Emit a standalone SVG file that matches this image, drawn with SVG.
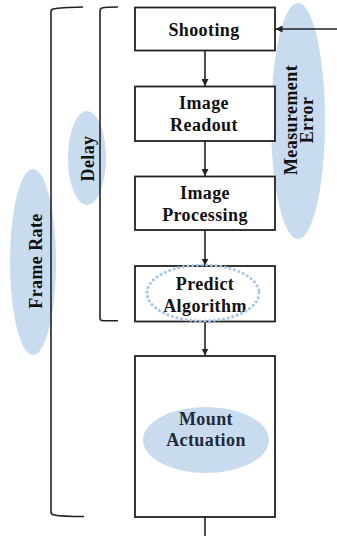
<svg xmlns="http://www.w3.org/2000/svg" width="337" height="536" viewBox="0 0 337 536">
<defs>
<style>
.bg{fill:#ffffff}
.hl{fill:#c9dcef;stroke:none}
.box{fill:#ffffff;stroke:#222222;stroke-width:1.8}
.ln{fill:none;stroke:#222222;stroke-width:1.6}
.br{fill:none;stroke:#222222;stroke-width:1.6}
.t{font-family:"Liberation Serif","Times New Roman",serif;font-weight:bold;font-size:18px;letter-spacing:0.4px;fill:#111111;text-anchor:middle}
.tm{fill:#1e2a3a}
.dot{fill:none;stroke:#a6c6e8;stroke-width:3;stroke-dasharray:0.1 4.6;stroke-linecap:round}
</style>
<marker id="ah" viewBox="0 0 10 10" refX="10" refY="5" markerWidth="7" markerHeight="7" markerUnits="userSpaceOnUse" orient="auto">
<path d="M0,0 L10,5 L0,10 z" fill="#222222"/>
</marker>
</defs>
<rect class="bg" x="0" y="0" width="337" height="536"/>

<g id="highlights">
<ellipse class="hl" cx="298" cy="121" rx="27" ry="118"/>
<ellipse class="hl" cx="87" cy="158" rx="19" ry="47"/>
<ellipse class="hl" cx="33" cy="262" rx="23" ry="93"/>
</g>

<g id="brackets">
<path class="br" d="M83,7 Q60,7.5 53,9 Q51,9.5 51,12 L51,512 Q51,514.5 54,515 Q62,516.5 84,516.5"/>
<path class="br" d="M118,7 Q106,7 102,8 Q100,8.5 100,11 L100,318 Q100,320.5 103,320.8 L118,320.8"/>
</g>

<g id="connectors">
<line class="ln" x1="205" y1="51" x2="205" y2="86" marker-end="url(#ah)"/>
<line class="ln" x1="205" y1="141" x2="205" y2="176" marker-end="url(#ah)"/>
<line class="ln" x1="205" y1="230" x2="205" y2="265.5" marker-end="url(#ah)"/>
<line class="ln" x1="205" y1="322" x2="205" y2="355.5" marker-end="url(#ah)"/>
<line class="ln" x1="205" y1="517" x2="205" y2="536"/>
<line class="ln" x1="337" y1="29" x2="275.5" y2="29" marker-end="url(#ah)"/>
</g>

<g id="shooting">
<rect class="box" x="135" y="7.5" width="140" height="43"/>
<text class="t" x="204" y="35.5">Shooting</text>
</g>

<g id="image-readout">
<rect class="box" x="135" y="86.5" width="140" height="54.5"/>
<text class="t" x="204" y="108.5">Image</text>
<text class="t" x="204" y="130.5">Readout</text>
</g>

<g id="image-processing">
<rect class="box" x="135" y="176.5" width="140" height="53.5"/>
<text class="t" x="205" y="199">Image</text>
<text class="t" x="205" y="220.5">Processing</text>
</g>

<g id="predict-algorithm">
<rect class="box" x="135" y="266" width="140" height="55.5"/>
<text class="t" x="205" y="289.5">Predict</text>
<text class="t" x="205" y="312">Algorithm</text>
<ellipse class="dot" cx="203" cy="293" rx="56" ry="28"/>
</g>

<g id="mount-actuation">
<rect class="box" x="135" y="356" width="140" height="161"/>
<ellipse class="hl" cx="206" cy="440" rx="63" ry="33"/>
<text class="t tm" x="206" y="425">Mount</text>
<text class="t tm" x="206" y="446">Actuation</text>
</g>

<g id="labels">
<text class="t" transform="translate(297,120) rotate(-90)">Measurement</text>
<text class="t" transform="translate(313,120) rotate(-90)">Error</text>
<text class="t" transform="translate(94,158.5) rotate(-90)">Delay</text>
<text class="t" transform="translate(42,261) rotate(-90)">Frame Rate</text>
</g>
</svg>
